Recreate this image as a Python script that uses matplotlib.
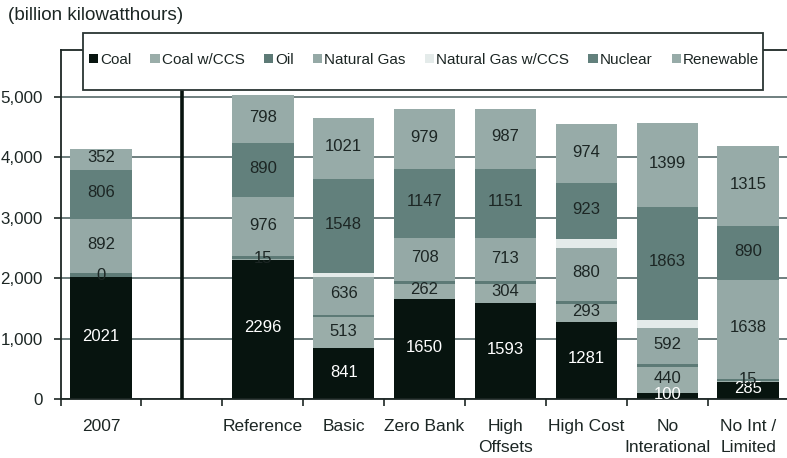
import matplotlib
matplotlib.use("Agg")
import matplotlib.pyplot as plt
from matplotlib.patches import Rectangle, Patch
from matplotlib.ticker import FuncFormatter
import numpy as np

plt.rcParams["font.family"] = ["Liberation Sans", "DejaVu Sans"]

# 2007 actual generation plus the policy scenarios
categories = ["2007", "Reference", "Basic", "Zero Bank", "High\nOffsets",
              "High Cost", "No\nInterational", "No Int /\nLimited"]

coal      = [2021, 2296,  841, 1650, 1593, 1281,  100,  285]
coal_ccs  = [   0,   15,  513,  262,  304,  293,  440,   15]
oil       = [  66,   50,   38,   45,   50,   50,   38,   35]
gas       = [ 892,  976,  636,  708,  713,  880,  592, 1638]
gas_ccs   = [   0,    0,   55,    0,    0,  140,  138,    0]
nuclear   = [ 806,  890, 1548, 1147, 1151,  923, 1863,  890]
renewable = [ 352,  798, 1021,  979,  987,  974, 1399, 1315]

SERIES = [
    ("Coal",              coal,      "#07140f", True),
    ("Coal w/CCS",        coal_ccs,  "#9aada9", True),
    ("Oil",               oil,       "#5d7a76", False),
    ("Natural Gas",       gas,       "#95a9a6", True),
    ("Natural Gas w/CCS", gas_ccs,   "#e4ebea", False),
    ("Nuclear",           nuclear,   "#62807c", True),
    ("Renewable",         renewable, "#97aba8", True),
]

TEXT = "#1c2624"
GRID = "#56696a"
W, H = 787, 458

fig = plt.figure(figsize=(W / 100, H / 100), dpi=100)
ax = fig.add_axes([60.6 / W, 1 - 399.3 / H, 728 / W, 349.3 / H])

# slot 1 is left empty for the divider between history and scenarios
x = np.array([0] + list(range(2, 2 + len(categories) - 1)))

bottom = np.zeros(len(categories))
for name, vals, color, labelled in SERIES:
    vals = np.array(vals, dtype=float)
    ax.bar(x, vals, width=0.76, bottom=bottom, color=color, linewidth=0, zorder=2)
    if labelled:
        txt_color = "white" if name == "Coal" else TEXT
        for xi, b, v in zip(x, bottom, vals):
            ax.text(xi, b + v / 2 + 30, f"{int(v)}", ha="center", va="center",
                    fontsize=12, color=txt_color, zorder=4, clip_on=True)
    bottom += vals

ax.axvline(1, color="#07140f", lw=2.6, zorder=3)

ax.set_xlim(-0.5, 8.5)
ax.set_ylim(0, 5770)
ax.set_yticks(np.arange(0, 5001, 1000))
ax.yaxis.set_major_formatter(FuncFormatter(lambda v, p: f"{int(v):,}"))
ax.yaxis.grid(True, color=GRID, lw=1.2, zorder=0)
ax.set_axisbelow(True)

ax.set_xticks(x)
ax.set_xticklabels(categories, fontsize=12.5, color=TEXT, linespacing=1.55)
ax.set_xticks(np.arange(-0.5, 9, 1), minor=True)
ax.tick_params(axis="x", which="major", length=0, pad=14)
ax.tick_params(axis="x", which="minor", length=5, width=1.2, color="#1c2624")
ax.tick_params(axis="y", length=5, width=1.2, color="#1c2624", labelsize=12.2,
               labelcolor=TEXT, pad=8)

for side in ("left", "bottom", "top"):
    ax.spines[side].set_color("#1c2624")
    ax.spines[side].set_linewidth(1.3)
ax.spines["right"].set_visible(False)

fig.text(8 / W, 1 - 15 / H, "(billion kilowatthours)", fontsize=13.6,
         color=TEXT, va="center", ha="left")

# legend box sits over the top of the plot area
fig.add_artist(Rectangle((83 / W, 1 - 90 / H), 680 / W, 57 / H,
                         transform=fig.transFigure, facecolor="white",
                         edgecolor="#2a3533", lw=1.3, zorder=5))
handles = [Patch(facecolor=c, edgecolor="none", label=n) for n, _, c, _ in SERIES]
leg = fig.legend(handles=handles, ncol=7, loc="center",
                 bbox_to_anchor=(424 / W, 1 - 60 / H), frameon=False,
                 fontsize=11, handlelength=0.6, handleheight=0.6,
                 handletextpad=0.15, columnspacing=1.25)
leg.set_zorder(6)
for t in leg.get_texts():
    t.set_color(TEXT)

fig.savefig("out.png", dpi=100)
